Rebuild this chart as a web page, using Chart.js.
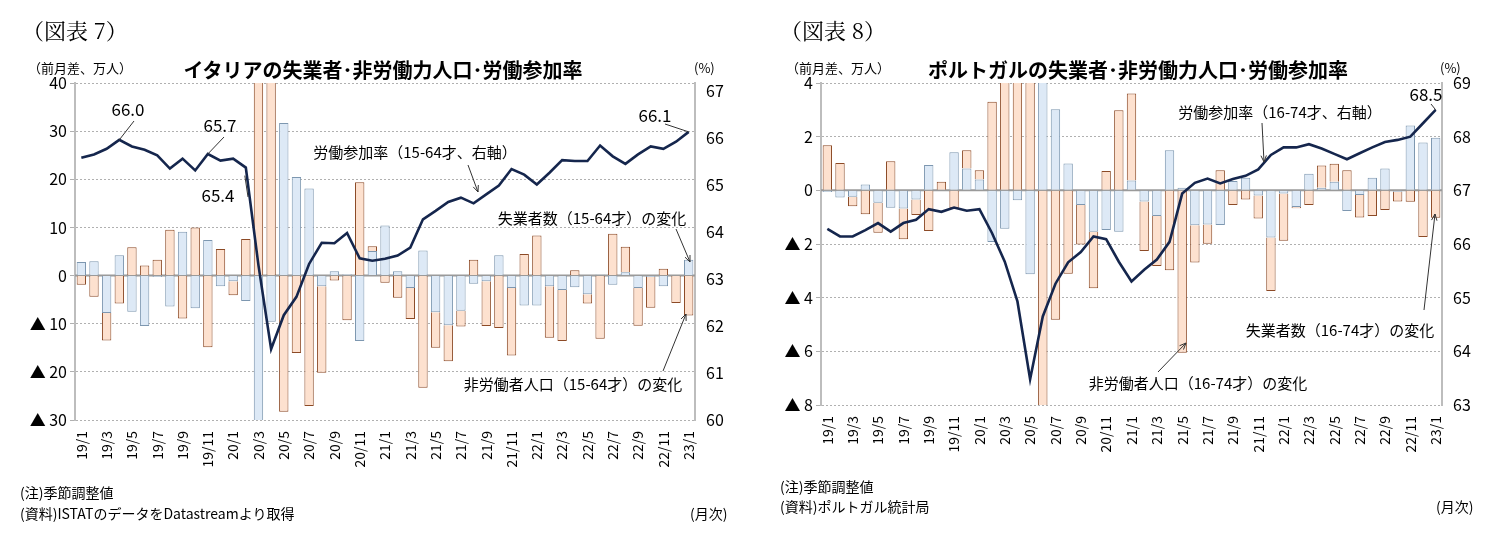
<!DOCTYPE html>
<html>
<head>
<meta charset="utf-8">
<script src="https://cdn.jsdelivr.net/npm/chart.js@4"></script>
<style>
  body { margin: 0; background: #fff; font-family: "Noto Sans CJK JP", "Noto Sans", sans-serif; }
  #wrap { position: relative; width: 1492px; height: 550px; overflow: hidden; }
  .t { position: absolute; white-space: nowrap; color: #000; }
  .fig { font-family: "Noto Serif CJK JP", "DejaVu Serif", serif; font-size: 22px; }
  .ttl { font-size: 20px; font-weight: bold; transform: translateX(-50%); }
  .sm { font-size: 13px; }
  .note { font-size: 14px; }
  canvas { position: absolute; top: 0; }
</style>
</head>
<body>
<div id="wrap">
  <canvas id="c1" style="left:0"></canvas>
  <canvas id="c2" style="left:750px"></canvas>

  <div class="t fig" style="left:22px;top:14px">（図表 7）</div>
  <div class="t sm" style="left:28px;top:58px">（前月差、万人）</div>
  <div class="t ttl" style="left:383px;top:55px">イタリアの失業者･非労働力人口･労働参加率</div>
  <div class="t sm" style="left:694px;top:58px">(%)</div>
  <div class="t note" style="left:20px;top:482px">(注)季節調整値</div>
  <div class="t note" style="left:20px;top:503px">(資料)ISTATのデータをDatastreamより取得</div>
  <div class="t note" style="left:690px;top:503px">(月次)</div>

  <div class="t fig" style="left:780px;top:14px">（図表 8）</div>
  <div class="t sm" style="left:786px;top:58px">（前月差、万人）</div>
  <div class="t ttl" style="left:1138px;top:55px">ポルトガルの失業者･非労働力人口･労働参加率</div>
  <div class="t sm" style="left:1440px;top:58px">(%)</div>
  <div class="t note" style="left:780px;top:476px">(注)季節調整値</div>
  <div class="t note" style="left:780px;top:496px">(資料)ポルトガル統計局</div>
  <div class="t note" style="left:1436px;top:496px">(月次)</div>
</div>
<script>
const months = ['19/1','19/2','19/3','19/4','19/5','19/6','19/7','19/8','19/9','19/10','19/11','19/12',
  '20/1','20/2','20/3','20/4','20/5','20/6','20/7','20/8','20/9','20/10','20/11','20/12',
  '21/1','21/2','21/3','21/4','21/5','21/6','21/7','21/8','21/9','21/10','21/11','21/12',
  '22/1','22/2','22/3','22/4','22/5','22/6','22/7','22/8','22/9','22/10','22/11','22/12','23/1'];

// Italy (万人, %)
const itUnemp = [2.8,3.0,-7.8,4.2,-7.5,-10.5,-0.3,-6.4,9.1,-6.8,7.4,-2.2,
  -1.2,-5.3,-35,-9.6,31.7,20.5,18.1,-2.2,0.9,0.3,-13.6,5.1,
  10.4,0.9,-2.6,5.2,-7.6,-10.3,-7.3,-1.7,-1.2,4.2,-2.6,-6.2,
  -6.2,-2.2,-3.0,-2.4,-3.9,0.2,-1.9,0.7,-2.6,-0.3,-2.2,0.1,3.3];
const itInactive = [-1.9,-4.4,-5.7,-5.8,5.9,2.1,3.3,9.5,-8.9,10.0,-14.9,5.5,
  -2.9,7.6,45,55,-28.3,-16.1,-27.1,-18.0,-1.0,-9.3,19.4,1.0,
  -1.5,-4.6,-6.4,-23.3,-7.4,-7.5,-3.3,3.3,-9.3,-10.9,-14.0,4.5,
  8.3,-10.7,-10.6,1.1,-1.9,-13.1,8.7,5.3,-7.8,-6.4,1.4,-5.7,-8.3];
const itRate = [65.58,65.65,65.77,65.96,65.82,65.75,65.63,65.35,65.56,65.31,65.66,65.52,
  65.56,65.37,63.29,61.51,62.23,62.62,63.32,63.77,63.76,63.98,63.44,63.39,
  63.43,63.50,63.67,64.27,64.45,64.64,64.73,64.61,64.80,64.99,65.34,65.22,
  65.01,65.26,65.53,65.51,65.51,65.84,65.61,65.45,65.65,65.82,65.77,65.92,66.13];
const itRightTicks = [60,61,62,63,64,65,66,67];

// Portugal (万人, %)
const ptUnemp = [-0.06,-0.27,-0.24,0.22,-0.46,-0.65,-0.68,-0.34,0.94,0.0,1.42,0.81,
  0.40,-1.93,-1.43,-0.37,-3.13,5.5,3.02,1.0,-0.55,-1.54,-1.48,-1.54,
  0.37,-0.42,-0.96,1.49,0.1,-1.30,-1.27,-1.29,0.35,0.47,-0.19,-1.76,
  -0.12,-0.62,0.62,0.1,0.32,-0.77,-0.17,0.47,0.81,-0.05,2.42,1.78,1.96];
const ptInactive = [1.68,1.02,-0.35,-0.89,-1.12,1.08,-1.14,-0.58,-1.52,0.32,-0.67,0.68,
  0.35,3.30,5.5,6.0,7.0,-9.0,-4.82,-3.11,-1.47,-2.11,0.72,2.98,
  3.24,-1.84,-1.86,-2.98,-6.05,-1.39,-0.72,0.75,-0.55,-0.34,-0.86,-1.99,
  -1.76,-0.05,-0.55,0.83,0.67,0.75,-0.84,-0.96,-0.73,-0.37,-0.43,-1.74,-1.02];
const ptRate = [66.28,66.14,66.14,66.26,66.39,66.23,66.39,66.45,66.65,66.60,66.68,66.62,
  66.65,66.20,65.67,64.93,63.48,64.65,65.26,65.66,65.85,66.14,66.09,65.67,
  65.30,65.52,65.71,66.04,66.94,67.14,67.22,67.13,67.21,67.27,67.39,67.66,
  67.80,67.80,67.86,67.78,67.68,67.58,67.69,67.80,67.90,67.94,68.00,68.25,68.50];
const ptRightTicks = [63,64,65,66,67,68,69];

const FONT = '"Noto Sans CJK JP", "Noto Sans", sans-serif';
const BLUE = '#dde9f6', BLUE_B = '#7d97b0';
const ORANGE = '#fde1cf', ORANGE_B = '#8c4a26';
const NAVY = '#15264d';

function arrowLine(ctx, x1, y1, x2, y2, head) {
  ctx.beginPath(); ctx.moveTo(x1, y1); ctx.lineTo(x2, y2); ctx.stroke();
  if (head) {
    const a = Math.atan2(y2 - y1, x2 - x1);
    ctx.beginPath();
    ctx.moveTo(x2, y2);
    ctx.lineTo(x2 - 7 * Math.cos(a - 0.4), y2 - 7 * Math.sin(a - 0.4));
    ctx.moveTo(x2, y2);
    ctx.lineTo(x2 - 7 * Math.cos(a + 0.4), y2 - 7 * Math.sin(a + 0.4));
    ctx.stroke();
  }
}

function makeChart(id, w, opt) {
  const cv = document.getElementById(id);
  cv.width = w; cv.height = 550;
  cv.style.width = w + 'px'; cv.style.height = '550px';

  const notes = {
    id: 'notes',
    beforeDatasetsDraw(chart) {
      const { ctx, chartArea, scales } = chart;
      const y0 = scales.y.getPixelForValue(0);
      ctx.save();
      ctx.strokeStyle = '#9a9a9a'; ctx.lineWidth = 2;
      ctx.beginPath(); ctx.moveTo(chartArea.left, y0); ctx.lineTo(chartArea.right, y0); ctx.stroke();
      ctx.restore();
    },
    afterDraw(chart) {
      const { ctx } = chart;
      const pts = chart.getDatasetMeta(2).data;
      ctx.save();
      ctx.fillStyle = '#000'; ctx.strokeStyle = '#333'; ctx.lineWidth = 1;
      opt.texts.forEach(t => {
        ctx.font = (t.size || 15) + 'px ' + FONT;
        ctx.textAlign = 'center'; ctx.textBaseline = 'middle';
        ctx.fillText(t.s, t.x, t.y);
        if (t.to !== undefined) {
          const p = pts[t.to];
          arrowLine(ctx, t.fx, t.fy, p.x + (t.dx || 0), p.y + (t.dy || 0), false);
        }
        if (t.ax !== undefined) arrowLine(ctx, t.fx, t.fy, t.ax, t.ay, true);
      });
      ctx.restore();
    }
  };

  return new Chart(cv.getContext('2d'), {
    data: {
      labels: months,
      datasets: [
        { type: 'bar', data: opt.unemp, backgroundColor: BLUE, borderColor: BLUE_B, borderWidth: 1,
          yAxisID: 'y', order: 1, categoryPercentage: 1, barPercentage: 0.74 },
        { type: 'bar', data: opt.inactive, backgroundColor: ORANGE, borderColor: ORANGE_B, borderWidth: 1,
          yAxisID: 'y', order: 1, categoryPercentage: 1, barPercentage: 0.74 },
        { type: 'line', data: opt.rate, borderColor: NAVY, borderWidth: 2.6, pointRadius: 0,
          tension: 0, yAxisID: 'y1', order: 0 }
      ]
    },
    options: {
      responsive: false, animation: false,
      layout: { padding: { top: opt.top } },
      plugins: { legend: { display: false }, tooltip: { enabled: false } },
      scales: {
        x: {
          stacked: true,
          grid: { display: false }, border: { display: false },
          ticks: { autoSkip: false, maxRotation: 90, minRotation: 90, color: '#000',
            font: { family: FONT, size: 14 },
            callback: (v, i) => i % 2 === 0 ? months[i] : '' },
          afterFit: s => { s.height = opt.xh; }
        },
        y: {
          stacked: true, position: 'left', min: opt.ymin, max: opt.ymax,
          ticks: { stepSize: opt.ystep, color: '#000', font: { family: FONT, size: 16 },
            callback: v => v < 0 ? '▲ ' + Math.abs(v) : v },
          grid: { color: '#b0b0b0', lineWidth: 1, drawTicks: true, tickLength: 5 },
          border: { color: '#bdbdbd', width: 2, dash: [2, 2] },
          afterFit: s => { s.width = opt.lw; }
        },
        y1: {
          position: 'right', min: opt.rmin, max: opt.rmax,
          ticks: { color: '#000', font: { family: FONT, size: 16 } },
          afterBuildTicks: s => { s.ticks = opt.rticks.map(v => ({ value: v })); },
          grid: { display: false, drawTicks: true },
          border: { color: '#bdbdbd', width: 2 },
          afterFit: s => { s.width = opt.rw; }
        }
      }
    },
    plugins: [notes]
  });
}

makeChart('c1', 750, {
  unemp: itUnemp, inactive: itInactive, rate: itRate, rticks: itRightTicks,
  top: 83, xh: 130, lw: 75, rw: 55,
  ymin: -30, ymax: 40, ystep: 10, rmin: 60, rmax: 67.17,
  texts: [
    { s: '66.0', x: 128, y: 110, size: 17, fx: 134, fy: 121, to: 3 },
    { s: '65.7', x: 220, y: 126, size: 17, fx: 224, fy: 137, to: 10 },
    { s: '65.4', x: 218, y: 196, size: 17, fx: 248, fy: 197, to: 13, dx: -1, dy: 8 },
    { s: '66.1', x: 655, y: 116, size: 17, fx: 665, fy: 124, to: 48 },
    { s: '労働参加率（15-64才、右軸）', x: 415, y: 152, fx: 468, fy: 165, ax: 478, ay: 192 },
    { s: '失業者数（15-64才）の変化', x: 592, y: 218, fx: 676, fy: 229, ax: 690, ay: 262 },
    { s: '非労働者人口（15-64才）の変化', x: 573, y: 384, fx: 663, fy: 371, ax: 686, ay: 314 }
  ]
});

makeChart('c2', 742, {
  unemp: ptUnemp, inactive: ptInactive, rate: ptRate, rticks: ptRightTicks,
  top: 83, xh: 145, lw: 71, rw: 50,
  ymin: -8, ymax: 4, ystep: 2, rmin: 63, rmax: 69,
  texts: [
    { s: '68.5', x: 676, y: 95, size: 17, fx: 681, fy: 104, to: 48 },
    { s: '労働参加率（16-74才、右軸）', x: 530, y: 112, fx: 512, fy: 123, ax: 514, ay: 162 },
    { s: '失業者数（16-74才）の変化', x: 590, y: 330, fx: 674, fy: 310, ax: 685, ay: 214 },
    { s: '非労働者人口（16-74才）の変化', x: 448, y: 383, fx: 408, fy: 372, ax: 436, ay: 343 }
  ]
});
</script>
</body>
</html>
